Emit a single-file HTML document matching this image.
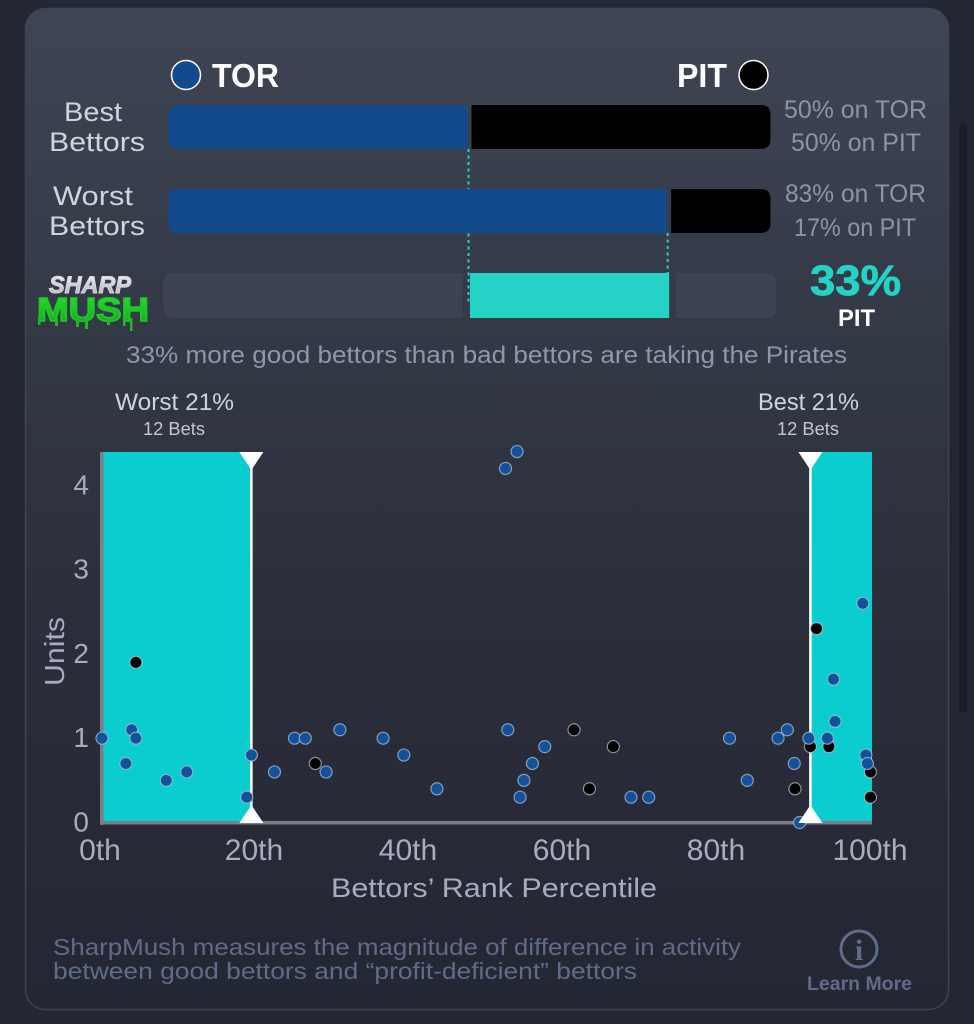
<!DOCTYPE html>
<html lang="en">
<head>
<meta charset="utf-8">
<title>SharpMush</title>
<style>
html,body{margin:0;padding:0;background:#232733;width:974px;height:1024px;overflow:hidden}
svg{display:block;font-family:"Liberation Sans",sans-serif}
</style>
</head>
<body>
<svg id="root" width="974" height="1024" viewBox="0 0 974 1024" xmlns="http://www.w3.org/2000/svg">
<defs>
<linearGradient id="cardBg" x1="0" y1="0" x2="0" y2="1">
<stop offset="0" stop-color="#3f4554"/>
<stop offset="0.37" stop-color="#323744"/>
<stop offset="0.6" stop-color="#2c2f3b"/>
<stop offset="0.85" stop-color="#272a36"/>
<stop offset="1" stop-color="#232733"/>
</linearGradient>
<linearGradient id="sharpFill" x1="0" y1="0" x2="0" y2="1">
<stop offset="0" stop-color="#f4f5f7"/>
<stop offset="1" stop-color="#a4a7ae"/>
</linearGradient>
<linearGradient id="mushFill" x1="0" y1="0" x2="0" y2="1">
<stop offset="0" stop-color="#2bea2b"/>
<stop offset="1" stop-color="#0f9e1c"/>
</linearGradient>
</defs>

<rect width="974" height="1024" fill="#232733"/>
<rect x="959" y="123" width="8" height="590" rx="4" fill="#1b1e29"/>
<rect x="25.5" y="8.5" width="923" height="1001" rx="20" fill="url(#cardBg)" stroke="#3e4352" stroke-width="1.5"/>

<g id="topPanel">
<circle cx="186" cy="75" r="14.5" fill="#134a8e" stroke="#fff" stroke-width="1.5"/>
<text x="212" y="87" font-size="33" font-weight="700" fill="#fff" textLength="67" lengthAdjust="spacingAndGlyphs">TOR</text>
<text x="677" y="87" font-size="33" font-weight="700" fill="#fff" textLength="50" lengthAdjust="spacingAndGlyphs">PIT</text>
<circle cx="753.5" cy="75" r="14.5" fill="#000" stroke="#fff" stroke-width="1.5"/>

<text x="64" y="121" font-size="27" fill="#d0d4de" textLength="58" lengthAdjust="spacingAndGlyphs">Best</text>
<text x="49" y="151" font-size="27" fill="#d0d4de" textLength="96" lengthAdjust="spacingAndGlyphs">Bettors</text>
<text x="53" y="205" font-size="27" fill="#d0d4de" textLength="80" lengthAdjust="spacingAndGlyphs">Worst</text>
<text x="49" y="235" font-size="27" fill="#d0d4de" textLength="96" lengthAdjust="spacingAndGlyphs">Bettors</text>

<text x="784" y="118" font-size="25" fill="#8d95a5" textLength="143" lengthAdjust="spacingAndGlyphs">50% on TOR</text>
<text x="791" y="151" font-size="25" fill="#8d95a5" textLength="130" lengthAdjust="spacingAndGlyphs">50% on PIT</text>
<text x="785" y="202" font-size="25" fill="#8d95a5" textLength="141" lengthAdjust="spacingAndGlyphs">83% on TOR</text>
<text x="794" y="236" font-size="25" fill="#8d95a5" textLength="122" lengthAdjust="spacingAndGlyphs">17% on PIT</text>

<text x="810" y="295" font-size="43" font-weight="700" fill="#24d3c5" stroke="#24d3c5" stroke-width="0.8" textLength="91" lengthAdjust="spacingAndGlyphs">33%</text>
<text x="838" y="326" font-size="24" font-weight="700" fill="#fff" textLength="37" lengthAdjust="spacingAndGlyphs">PIT</text>

<g>
<text x="49" y="293" font-size="24" font-weight="700" font-style="italic" fill="url(#sharpFill)" stroke="#d8dadf" stroke-width="1" textLength="82" lengthAdjust="spacingAndGlyphs">SHARP</text>
<text x="37" y="321" font-size="33" font-weight="700" fill="url(#mushFill)" stroke="#1fc92a" stroke-width="1.6" textLength="112" lengthAdjust="spacingAndGlyphs">MUSH</text>
<g fill="#1fb826">
<rect x="38" y="318" width="2.5" height="7"/><rect x="55" y="318" width="3" height="8"/>
<rect x="76" y="318" width="3" height="9"/><rect x="85" y="318" width="3" height="11"/>
<rect x="107" y="318" width="3" height="7"/><rect x="123" y="318" width="2.5" height="8"/>
<rect x="130" y="318" width="2.5" height="13"/><rect x="145" y="318" width="2.5" height="4"/>
</g>
</g>

<text x="126" y="363" font-size="24" fill="#8f97a9" textLength="721" lengthAdjust="spacingAndGlyphs">33% more good bettors than bad bettors are taking the Pirates</text>
</g>

<g id="bars"></g>
<g id="chart"></g>

<g>
<text x="53" y="955" font-size="23" fill="#5e6c8a" textLength="688" lengthAdjust="spacingAndGlyphs">SharpMush measures the magnitude of difference in activity</text>
<text x="53" y="979" font-size="23" fill="#5e6c8a" textLength="584" lengthAdjust="spacingAndGlyphs">between good bettors and “profit-deficient” bettors</text>
<g>
<circle cx="859" cy="949" r="18" fill="none" stroke="#5e6c8a" stroke-width="3"/>
<text x="859" y="960" font-size="30" font-weight="700" font-family="Liberation Serif, serif" text-anchor="middle" fill="#5e6c8a">i</text>
<text x="807" y="990" font-size="19" font-weight="700" fill="#5e6c8a" textLength="105" lengthAdjust="spacingAndGlyphs">Learn More</text>
</g>
</g>
</svg>

<script>
// Split-bar data (percent on TOR)
var bestTorShare = 50;
var worstTorShare = 83;

// Scatter axis labels
var xTickValues = [0, 20, 40, 60, 80, 100];
var xTickLabels = ['0th', '20th', '40th', '60th', '80th', '100th'];
var yTickValues = [0, 1, 2, 3, 4];
var yTickLabels = ['0', '1', '2', '3', '4'];

// Percentile cut-offs of the shaded zones
var worstCutoff = 19.4;
var bestCutoff = 92;

// Scatter data: percentile rank, units wagered, team
var torRanks = [0, 3.85, 4.4, 3.1, 8.35, 11, 18.8, 19.4, 22.4, 25, 26.4, 30.9, 29.1, 36.5, 39.2, 43.5, 52.4, 53.9, 52.7, 57.5, 55.9, 54.8, 54.3, 68.7, 71, 81.5, 83.8, 87.8, 89, 89.9, 90.6, 91.8, 94.2, 95.2, 95, 98.8, 99.2, 99.4];
var torUnits = [1, 1.1, 1, 0.7, 0.5, 0.6, 0.3, 0.8, 0.6, 1, 1, 1.1, 0.6, 1, 0.8, 0.4, 4.2, 4.4, 1.1, 0.9, 0.7, 0.5, 0.3, 0.3, 0.3, 1, 0.5, 1, 1.1, 0.7, 0, 1, 1, 1.2, 1.7, 2.6, 0.8, 0.7];
var pitRanks = [4.4, 27.7, 61.3, 66.4, 63.3, 90, 92, 94.4, 92.8, 99.8, 99.8];
var pitUnits = [1.9, 0.7, 1.1, 0.9, 0.4, 0.4, 0.9, 0.9, 2.3, 0.6, 0.3];

var NS = 'http://www.w3.org/2000/svg';
function make(tag, parent, attrs, text) {
  var el = document.createElementNS(NS, tag);
  for (var k in attrs) { el.setAttribute(k, attrs[k]); }
  if (text !== undefined) { el.textContent = text; }
  parent.appendChild(el);
  return el;
}

// Split-bar scale
function barX(pct) { return 168.5 + pct * 6.02; }
function roundedLeft(x1, x2, y, h, r) {
  return 'M' + x2 + ' ' + y + 'H' + (x1 + r) + 'Q' + x1 + ' ' + y + ' ' + x1 + ' ' + (y + r) + 'V' + (y + h - r) + 'Q' + x1 + ' ' + (y + h) + ' ' + (x1 + r) + ' ' + (y + h) + 'H' + x2 + 'Z';
}
function roundedRight(x1, x2, y, h, r) {
  return 'M' + x1 + ' ' + y + 'H' + (x2 - r) + 'Q' + x2 + ' ' + y + ' ' + x2 + ' ' + (y + r) + 'V' + (y + h - r) + 'Q' + x2 + ' ' + (y + h) + ' ' + (x2 - r) + ' ' + (y + h) + 'H' + x1 + 'Z';
}

var bars = document.getElementById('bars');
var bestEdge = barX(bestTorShare);
var worstEdge = barX(worstTorShare);
var barRight = barX(100);

var bestGuide = make('line', bars, {x1: bestEdge - 1, x2: bestEdge - 1, y1: 149, y2: 302, stroke: '#24d3c5', 'stroke-width': 2, 'stroke-dasharray': '3 3.5'});


var worstGuide = make('line', bars, {x1: worstEdge - 0.5, x2: worstEdge - 0.5, y1: 233, y2: 274, stroke: '#24d3c5', 'stroke-width': 2, 'stroke-dasharray': '3 3.5'});



var bestTorBar = make('path', bars, {d: roundedLeft(barX(0), bestEdge - 2, 105, 44, 10), fill: '#134a8e'});


var bestPitBar = make('path', bars, {d: roundedRight(bestEdge + 2, barRight, 105, 44, 10), fill: '#000'});


var worstTorBar = make('path', bars, {d: roundedLeft(barX(0), worstEdge - 1.5, 189, 44, 10), fill: '#134a8e'});


var worstPitBar = make('path', bars, {d: roundedRight(worstEdge + 3, barRight, 189, 44, 10), fill: '#000'});



var mushLeftTrack = make('path', bars, {d: roundedLeft(163.5, bestEdge - 7, 273, 45, 10), fill: '#3d4352'});


var mushRightTrack = make('path', bars, {d: roundedRight(worstEdge + 8, 776, 273, 45, 10), fill: '#3d4352'});


var mushBar = make('rect', bars, {x: bestEdge + 0.5, y: 273, width: worstEdge - bestEdge + 0.5, height: 45, fill: '#24d3c5'});



// Scatter axis functions
function xScale(p) { return 102 + p * 7.7; }
function yScale(v) { return 822.5 - v * 84.3; }

var chart = document.getElementById('chart');
var plotTop = 452;
var plotBottom = 823;
var worstX = xScale(worstCutoff);
var bestX = xScale(bestCutoff);

var worstZone = make('rect', chart, {x: xScale(0), y: plotTop, width: worstX - xScale(0), height: plotBottom - plotTop, fill: '#0bcdd0'});


var bestZone = make('rect', chart, {x: bestX, y: plotTop, width: xScale(100) - bestX, height: plotBottom - plotTop, fill: '#0bcdd0'});



var yAxisLine = make('rect', chart, {x: 100, y: plotTop, width: 3.5, height: plotBottom - plotTop + 2, fill: '#7b7e88'});


var xAxisLine = make('rect', chart, {x: 100, y: plotBottom - 2, width: xScale(100) - 100, height: 3.5, fill: '#7b7e88'});



var worstLine = make('rect', chart, {x: worstX - 1.25, y: plotTop, width: 2.5, height: plotBottom - plotTop, fill: '#fff'});


var bestLine = make('rect', chart, {x: bestX - 1.25, y: plotTop, width: 2.5, height: plotBottom - plotTop, fill: '#fff'});



xTickValues.forEach(function (v, i) {
  var tick = make('text', chart, {x: xScale(v) - 2, y: 860, 'font-size': 30, 'text-anchor': 'middle', fill: '#a5adbf'}, xTickLabels[i]);
  
  
});
yTickValues.forEach(function (v, i) {
  var tick = make('text', chart, {x: 89, y: yScale(v) + 9, 'font-size': 28, 'text-anchor': 'end', fill: '#a5adbf'}, yTickLabels[i]);
  
  
});

var yTitle = make('text', chart, {x: 0, y: 0, 'font-size': 28, fill: '#a5adbf', 'text-anchor': 'middle', textLength: 69, lengthAdjust: 'spacingAndGlyphs', transform: 'translate(64 651.5) rotate(-90)'}, 'Units');


var xTitle = make('text', chart, {x: 331, y: 897, 'font-size': 27, fill: '#a5adbf', textLength: 326, lengthAdjust: 'spacingAndGlyphs'}, 'Bettors’ Rank Percentile');



var worstTitle = make('text', chart, {x: 115, y: 410, 'font-size': 24, fill: '#d0d4de', textLength: 119, lengthAdjust: 'spacingAndGlyphs'}, 'Worst 21%');


var worstCount = make('text', chart, {x: 143, y: 435, 'font-size': 18, fill: '#c2c7d2', textLength: 62, lengthAdjust: 'spacingAndGlyphs'}, '12 Bets');


var bestTitle = make('text', chart, {x: 758, y: 410, 'font-size': 24, fill: '#d0d4de', textLength: 101, lengthAdjust: 'spacingAndGlyphs'}, 'Best 21%');


var bestCount = make('text', chart, {x: 777, y: 435, 'font-size': 18, fill: '#c2c7d2', textLength: 62, lengthAdjust: 'spacingAndGlyphs'}, '12 Bets');



function drawDot(rank, units, fill, stroke) {
  var dot = make('circle', chart, {cx: xScale(rank), cy: yScale(units), r: 6, fill: fill, stroke: stroke, 'stroke-width': 1.2});
  
  
}
pitRanks.forEach(function (r, i) { drawDot(r, pitUnits[i], '#000', 'rgba(205,212,225,.65)'); });
torRanks.forEach(function (r, i) { drawDot(r, torUnits[i], '#14519b', 'rgba(170,190,215,.75)'); });

function drawHandles(x, name) {
  var down = make('polygon', chart, {points: (x - 12) + ',452 ' + (x + 12) + ',452 ' + x + ',470', fill: '#fff'});
  
  
  var up = make('polygon', chart, {points: (x - 12) + ',823 ' + (x + 12) + ',823 ' + x + ',805', fill: '#fff'});
  
  
}
drawHandles(worstX, 'worst-cutoff');
drawHandles(bestX, 'best-cutoff');
</script>
</body>
</html>
